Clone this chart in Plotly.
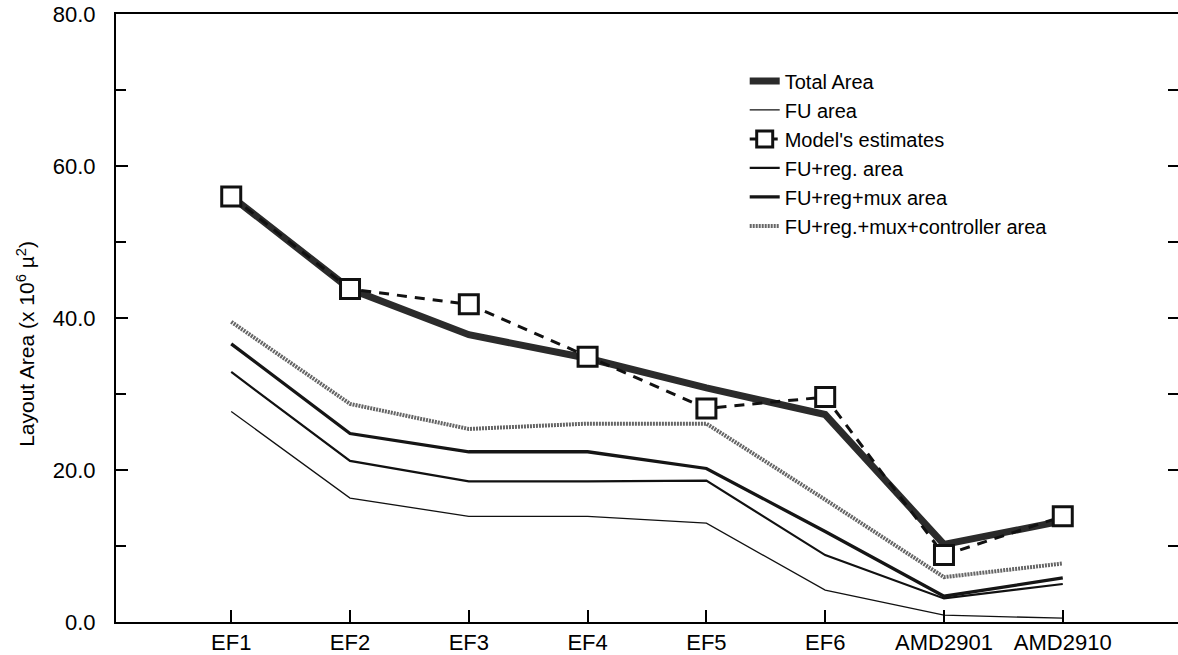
import plotly.graph_objects as go

categories = ["EF1", "EF2", "EF3", "EF4", "EF5", "EF6", "AMD2901", "AMD2910"]

total_area = [56.0, 43.8, 37.8, 34.7, 30.8, 27.3, 10.2, 13.3]
fu_area = [27.7, 16.3, 13.9, 13.9, 13.0, 4.2, 0.9, 0.5]
model_estimates = [56.0, 43.8, 41.8, 34.9, 28.1, 29.6, 8.8, 13.9]
fu_reg_area = [32.9, 21.2, 18.5, 18.5, 18.6, 8.8, 3.1, 5.0]
fu_reg_mux_area = [36.6, 24.8, 22.4, 22.4, 20.2, 11.9, 3.4, 5.8]
fu_reg_mux_ctrl_area = [39.5, 28.7, 25.4, 26.1, 26.1, 16.1, 5.9, 7.7]

y_major_ticks = [0, 20, 40, 60, 80]
y_tick_labels = ["0.0", "20.0", "40.0", "60.0", "80.0"]
y_all_ticks = [0, 10, 20, 30, 40, 50, 60, 70, 80]

FONT = "Liberation Sans, Arial, Helvetica, sans-serif"
x = list(range(len(categories)))

fig = go.Figure()
fig.add_trace(go.Scatter(x=x, y=total_area, mode="lines", name="Total Area",
                         line=dict(color="#2b2b2b", width=7)))
fig.add_trace(go.Scatter(x=x, y=fu_area, mode="lines", name="FU area",
                         line=dict(color="#111111", width=1.3)))
fig.add_trace(go.Scatter(x=x, y=model_estimates, mode="lines+markers", name="Model's estimates",
                         line=dict(color="#111111", width=3, dash="10px,8px"),
                         marker=dict(symbol="square", size=19, color="white",
                                     line=dict(color="#111111", width=3))))
fig.add_trace(go.Scatter(x=x, y=fu_reg_area, mode="lines", name="FU+reg. area",
                         line=dict(color="#111111", width=2.2)))
fig.add_trace(go.Scatter(x=x, y=fu_reg_mux_area, mode="lines", name="FU+reg+mux area",
                         line=dict(color="#151515", width=3.3)))
fig.add_trace(go.Scatter(x=x, y=fu_reg_mux_ctrl_area, mode="lines", name="FU+reg.+mux+controller area",
                         line=dict(color="#666666", width=4, dash="2px,1px")))
# right-side tick marks
fig.add_trace(go.Scatter(x=[None], y=[None], yaxis="y2", showlegend=False, hoverinfo="skip"))

fig.update_layout(
    width=1178, height=655,
    margin=dict(l=116, r=0, t=14, b=31),
    paper_bgcolor="white", plot_bgcolor="white",
    font=dict(family=FONT, size=22, color="black"),
    xaxis=dict(range=[-0.97, 7.97], tickmode="array", tickvals=x, ticktext=categories,
               ticks="inside", ticklen=12, tickwidth=2, tickcolor="black",
               showline=True, linecolor="black", linewidth=2, mirror=True,
               showgrid=False, zeroline=False, tickfont=dict(size=22)),
    yaxis=dict(range=[0, 80], tickmode="array", tickvals=y_major_ticks, ticktext=y_tick_labels,
               ticks="inside", ticklen=12, tickwidth=2, tickcolor="black",
               minor=dict(tickvals=y_all_ticks, ticks="inside", ticklen=10, tickwidth=2, tickcolor="black"),
               showline=True, linecolor="black", linewidth=2, ticklabelstandoff=14,
               showgrid=False, zeroline=False, tickfont=dict(size=22)),
    yaxis2=dict(range=[0, 80], overlaying="y", side="right", tickmode="array", tickvals=y_all_ticks,
                ticks="inside", ticklen=10, tickwidth=2, tickcolor="black",
                showticklabels=False, showline=False, showgrid=False, zeroline=False),
    legend=dict(x=0.592, y=0.922, xanchor="left", yanchor="top", bgcolor="rgba(0,0,0,0)",
                font=dict(size=20), tracegroupgap=0),
    showlegend=True,
    annotations=[dict(text="Layout Area (x 10<sup>6</sup> µ<sup>2</sup>)", xref="paper", yref="paper",
                      x=-0.085, y=0.457, xanchor="center", yanchor="middle", textangle=-90,
                      showarrow=False, font=dict(size=21))],
)

fig.write_html("out.html")
